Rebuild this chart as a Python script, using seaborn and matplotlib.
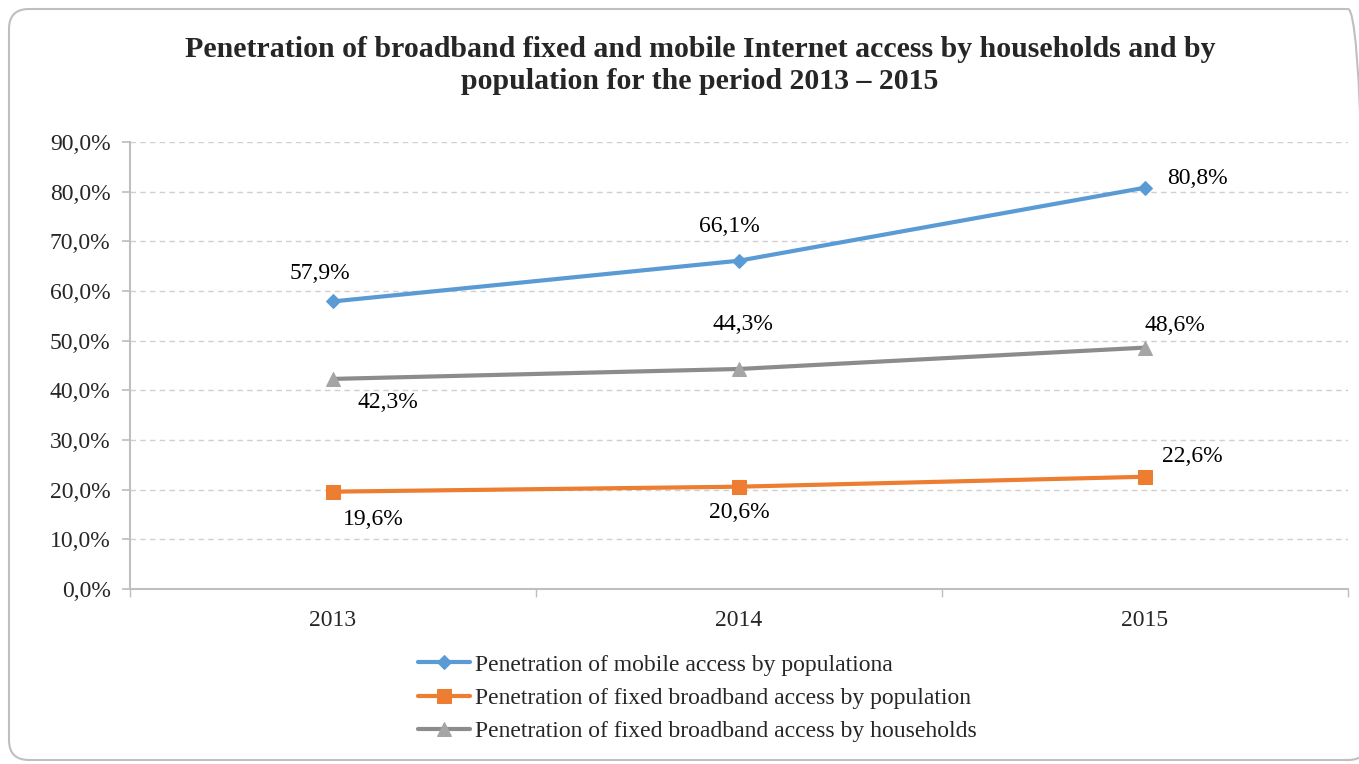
import matplotlib
matplotlib.use("Agg")
import matplotlib.pyplot as plt
import seaborn as sns
import pandas as pd
from matplotlib.patches import FancyBboxPatch
from matplotlib.transforms import IdentityTransform
from matplotlib.ticker import FuncFormatter, FixedLocator

years = ["2013", "2014", "2015"]
mobile_pop = [57.9, 66.1, 80.8]
fixed_pop = [19.6, 20.6, 22.6]
fixed_hh = [42.3, 44.3, 48.6]
series_names = [
    "Penetration of mobile access by populationa",
    "Penetration of fixed broadband access by population",
    "Penetration of fixed broadband access by households",
]
title = "Penetration of broadband fixed and mobile Internet access by households and by\npopulation for the period 2013 \u2013 2015"

sns.set_theme(style="white")
plt.rcParams["font.family"] = ["Liberation Serif", "DejaVu Serif"]

colors = ["#5B9BD5", "#ED7D31", "#8C8C8C"]
marker_colors = ["#5B9BD5", "#ED7D31", "#A5A5A5"]
markers = ["D", "s", "^"]
msizes = [7, 10, 10]
FS = 17

fig = plt.figure(figsize=(13.59, 7.64), dpi=100)
ax = fig.add_axes([130/1359, 1-589/764, (1348-130)/1359, (589-142)/764])

# rounded chart frame (pixel coordinates, origin bottom-left)
frame = FancyBboxPatch((9, 4), 1368 - 9, 755 - 4,
                       boxstyle="round,pad=0,rounding_size=20",
                       transform=IdentityTransform(), fill=False,
                       edgecolor="#BFBFBF", linewidth=1.5, zorder=-1)
fig.patches.append(frame)

pos = list(range(len(years)))
all_vals = [mobile_pop, fixed_pop, fixed_hh]
for vals, name, c, mc, m, ms in zip(all_vals, series_names, colors, marker_colors, markers, msizes):
    df = pd.DataFrame({"x": pos, "y": vals})
    sns.lineplot(data=df, x="x", y="y", ax=ax, color=c, linewidth=3, marker=m,
                 markersize=ms, markerfacecolor=mc, markeredgecolor=mc, label=name)

# data labels (offsets in pixels)
offsets = {
    0: [(-13, 28), (-10, 34), (52, 9)],
    1: [(40, -28), (0, -26), (47, 20)],
    2: [(55, -24), (4, 44), (30, 22)],
}
for si, vals in enumerate(all_vals):
    for i, v in enumerate(vals):
        dx, dy = offsets[si][i]
        ax.annotate(f"{v:.1f}%".replace(".", ","), (i, v), xytext=(dx, dy),
                    textcoords="offset pixels", ha="center", va="center",
                    fontsize=FS, color="#000000")

ax.set_xlim(-0.5, 2.5)
ax.set_ylim(0, 90)
ax.set_yticks(range(0, 91, 10))
ax.yaxis.set_major_formatter(FuncFormatter(lambda v, p: f"{v:.1f}%".replace(".", ",")))
ax.set_xticks(pos)
ax.set_xticklabels(years)
ax.xaxis.set_minor_locator(FixedLocator([-0.5, 0.5, 1.5, 2.5]))
ax.tick_params(axis="x", which="major", length=0, pad=15, labelsize=FS)
ax.tick_params(axis="x", which="minor", length=6, color="#BFBFBF", bottom=True)
ax.tick_params(axis="y", length=6, color="#BFBFBF", left=True, labelsize=FS, pad=8)
ax.set_xlabel("")
ax.set_ylabel("")
ax.grid(axis="y", color="#D0D0D0", linestyle=(0, (4, 3)), linewidth=1)
for s in ["top", "right"]:
    ax.spines[s].set_visible(False)
for s in ["left", "bottom"]:
    ax.spines[s].set_color("#BFBFBF")
    ax.spines[s].set_linewidth(1.5)

fig.suptitle(title, x=0.515, y=0.953, fontsize=21.5, fontweight="bold", va="top", linespacing=1.25)

leg = ax.legend(loc="upper left", bbox_to_anchor=(418/1359, 1-654/764), bbox_transform=fig.transFigure,
                frameon=False, fontsize=FS, handlelength=2.2, handletextpad=0.2,
                labelspacing=0.5, borderaxespad=0, borderpad=0)

fig.savefig("out.png", dpi=100)
